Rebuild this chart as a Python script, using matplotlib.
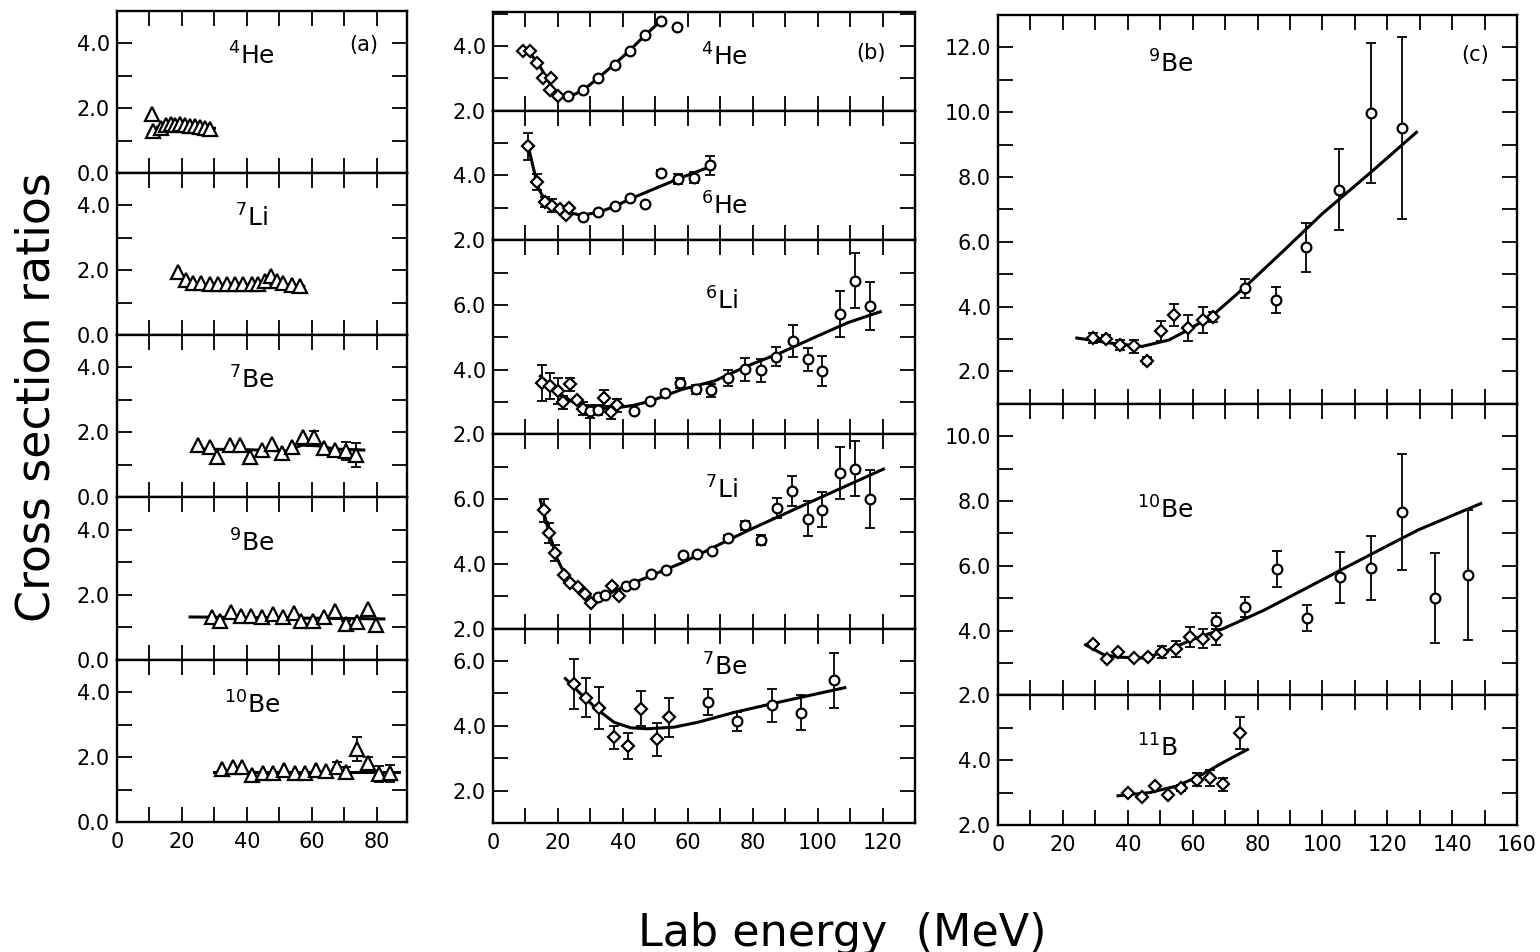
import matplotlib
matplotlib.use("Agg")
import matplotlib.pyplot as plt
from matplotlib.ticker import MultipleLocator
import numpy as np

plt.rcParams['font.family'] = ['DejaVu Sans']
plt.rcParams['mathtext.default'] = 'regular'

W, H = 1540, 952

# ---------------- column (a): triangles ----------------
a_he4_x = [10.7, 11.2, 13.5, 15.0, 16.5, 18.0, 19.5, 21.0, 22.5, 24.0, 25.5, 27.0, 28.5]
a_he4_y = [1.82, 1.30, 1.40, 1.47, 1.50, 1.48, 1.50, 1.48, 1.46, 1.45, 1.43, 1.40, 1.36]
a_he4_err = [0] * 13
a_he4_fit_x = [12.5, 30.0]
a_he4_fit_y = [1.42, 1.38]

a_li7_x = [18.9, 21.1, 23.5, 26.0, 28.6, 31.2, 33.8, 36.3, 38.9, 41.5, 43.5, 45.6, 47.3, 49.2, 51.2, 53.8, 56.3]
a_li7_y = [1.93, 1.71, 1.60, 1.59, 1.58, 1.58, 1.57, 1.58, 1.58, 1.57, 1.57, 1.66, 1.81, 1.66, 1.60, 1.55, 1.52]
a_li7_err = [0] * 17
a_li7_fit_x = [21.0, 57.5]
a_li7_fit_y = [1.55, 1.50]

a_be7_x = [24.8, 28.6, 30.9, 34.8, 37.8, 40.9, 44.5, 47.6, 50.7, 54.0, 57.3, 60.6, 63.7, 67.1, 70.5, 73.5]
a_be7_y = [1.61, 1.55, 1.24, 1.61, 1.61, 1.25, 1.45, 1.64, 1.36, 1.53, 1.84, 1.84, 1.51, 1.46, 1.41, 1.30]
a_be7_err = [0, 0, 0, 0, 0, 0, 0, 0, 0, 0, 0, 0.2, 0, 0, 0.28, 0.36]
a_be7_fit_x = [23.5, 40.0, 52.0, 57.0, 62.0, 67.0, 76.0]
a_be7_fit_y = [1.48, 1.46, 1.42, 1.60, 1.58, 1.48, 1.45]

a_be9_x = [29.4, 31.7, 35.0, 38.1, 41.4, 44.7, 47.9, 51.2, 54.5, 56.8, 60.4, 63.7, 67.1, 70.5, 73.8, 77.3, 79.7]
a_be9_y = [1.33, 1.21, 1.48, 1.36, 1.36, 1.31, 1.41, 1.33, 1.45, 1.21, 1.21, 1.33, 1.50, 1.10, 1.16, 1.55, 1.07]
a_be9_err = [0, 0, 0, 0, 0, 0, 0, 0, 0, 0, 0, 0, 0, 0.1, 0.12, 0, 0]
a_be9_fit_x = [22.5, 82.2]
a_be9_fit_y = [1.32, 1.26]

a_be10_x = [32.2, 35.6, 38.4, 41.7, 45.0, 48.1, 51.4, 54.8, 57.8, 61.4, 64.5, 67.6, 70.5, 73.9, 77.3, 80.7, 84.0]
a_be10_y = [1.64, 1.69, 1.69, 1.46, 1.52, 1.52, 1.62, 1.52, 1.52, 1.59, 1.57, 1.69, 1.54, 2.26, 1.82, 1.49, 1.50]
a_be10_err = [0, 0, 0, 0, 0, 0, 0, 0, 0, 0, 0, 0.15, 0.15, 0.37, 0.2, 0.25, 0.25]
a_be10_fit_x = [30.0, 86.9]
a_be10_fit_y = [1.55, 1.55]

# ---------------- column (b): diamonds (d) and circles (o) ----------------
b_he4_dx = [9.2, 11.5, 13.7, 15.4, 17.9, 17.6, 20.0]
b_he4_dy = [3.83, 3.83, 3.47, 3.01, 3.01, 2.63, 2.44]
b_he4_derr = [0] * 7
b_he4_ox = [23.1, 27.8, 32.4, 37.5, 42.2, 46.7, 51.7, 56.7]
b_he4_oy = [2.44, 2.65, 3.01, 3.42, 3.85, 4.35, 4.78, 4.60]
b_he4_oerr = [0] * 8
b_he4_fit_x = [9.5, 12.0, 14.0, 16.0, 18.0, 20.0, 22.0, 24.0, 28.0, 32.0, 37.0, 42.0, 47.0, 52.0]
b_he4_fit_y = [3.85, 3.70, 3.45, 3.10, 2.75, 2.50, 2.42, 2.45, 2.65, 2.98, 3.40, 3.85, 4.35, 4.80]

b_he6_dx = [10.9, 13.7, 16.1, 18.2, 20.5, 22.6, 23.3]
b_he6_dy = [4.90, 3.79, 3.18, 3.06, 2.95, 2.77, 3.00]
b_he6_derr = [0.41, 0.25, 0.15, 0.2, 0, 0, 0]
b_he6_ox = [27.8, 32.3, 37.6, 42.1, 46.7, 51.9, 56.9, 62.0, 66.7]
b_he6_oy = [2.73, 2.88, 3.06, 3.31, 3.13, 4.08, 3.88, 3.93, 4.31]
b_he6_oerr = [0, 0, 0, 0, 0, 0.1, 0.15, 0.17, 0.3]
b_he6_fit_x = [10.6, 13.9, 16.5, 21.8, 27.0, 32.1, 37.4, 42.6, 57.9, 66.1]
b_he6_fit_y = [5.0, 3.62, 3.14, 2.90, 2.77, 2.85, 3.04, 3.29, 3.93, 4.24]

b_li6_dx = [15.1, 17.6, 19.9, 21.6, 23.6, 25.9, 27.8, 34.2, 36.5, 38.3]
b_li6_dy = [3.58, 3.50, 3.34, 3.00, 3.55, 3.05, 2.80, 3.13, 2.69, 2.90]
b_li6_derr = [0.55, 0.4, 0.4, 0.2, 0.2, 0, 0.2, 0.25, 0.2, 0.2]
b_li6_ox = [30.0, 32.4, 43.4, 48.3, 53.0, 57.6, 62.5, 67.2, 72.5, 77.5, 82.5, 87.1, 92.3, 96.9, 101.5, 106.9, 111.5, 116.2]
b_li6_oy = [2.72, 2.75, 2.72, 3.03, 3.27, 3.58, 3.39, 3.37, 3.73, 4.01, 3.98, 4.40, 4.89, 4.32, 3.96, 5.72, 6.75, 5.97]
b_li6_oerr = [0.2, 0.15, 0, 0, 0.1, 0.15, 0.15, 0.2, 0.25, 0.35, 0.35, 0.3, 0.5, 0.35, 0.45, 0.7, 0.85, 0.75]
b_li6_fit_x = [14.6, 20.8, 27.0, 33.0, 38.0, 43.4, 48.6, 57.9, 68.2, 78.5, 88.8, 99.1, 109.5, 119.3]
b_li6_fit_y = [3.80, 3.24, 2.85, 2.80, 2.82, 2.90, 3.03, 3.38, 3.65, 4.12, 4.53, 5.00, 5.46, 5.79]

b_li7_dx = [15.6, 17.4, 19.2, 21.8, 23.8, 26.1, 28.3, 30.2, 36.7, 38.8]
b_li7_dy = [5.66, 4.95, 4.35, 3.66, 3.42, 3.28, 3.07, 2.79, 3.31, 3.00]
b_li7_derr = [0.35, 0.3, 0.25, 0, 0, 0, 0, 0, 0, 0]
b_li7_ox = [32.3, 34.5, 41.1, 43.4, 48.6, 53.3, 58.4, 62.8, 67.4, 72.5, 77.7, 82.7, 87.6, 92.2, 96.9, 101.5, 106.9, 111.5, 116.2]
b_li7_oy = [2.97, 3.05, 3.31, 3.38, 3.70, 3.80, 4.28, 4.30, 4.39, 4.80, 5.19, 4.74, 5.73, 6.25, 5.40, 5.68, 6.80, 6.94, 6.00]
b_li7_oerr = [0, 0, 0, 0, 0, 0, 0, 0, 0, 0.1, 0.15, 0.15, 0.3, 0.45, 0.55, 0.55, 0.8, 0.85, 0.9]
b_li7_fit_x = [14.6, 17.7, 19.8, 22.9, 27.0, 30.1, 37.3, 43.4, 57.9, 78.5, 99.1, 120.3]
b_li7_fit_y = [5.97, 4.82, 4.15, 3.52, 3.16, 2.82, 3.16, 3.42, 4.02, 5.03, 5.97, 6.93]

b_be7_dx = [25.1, 28.5, 32.8, 37.3, 41.7, 45.7, 50.5, 54.3]
b_be7_dy = [5.30, 4.87, 4.56, 3.65, 3.39, 4.53, 3.58, 4.27]
b_be7_derr = [0.77, 0.6, 0.65, 0.35, 0.4, 0.55, 0.5, 0.6]
b_be7_ox = [66.2, 75.2, 85.8, 95.0, 104.9]
b_be7_oy = [4.73, 4.14, 4.63, 4.41, 5.41]
b_be7_oerr = [0.4, 0.3, 0.5, 0.55, 0.85]
b_be7_fit_x = [22.3, 27.0, 32.2, 37.3, 42.4, 47.6, 55.8, 63.1, 74.5, 85.8, 96.2, 108.4]
b_be7_fit_y = [5.46, 4.99, 4.50, 4.11, 3.94, 3.91, 3.96, 4.11, 4.42, 4.68, 4.91, 5.18]

# ---------------- column (c) ----------------
c_be9_dx = [29.3, 33.4, 37.5, 42.0, 45.9, 50.1, 54.4, 58.6, 63.1, 66.3]
c_be9_dy = [3.03, 3.01, 2.82, 2.77, 2.33, 3.25, 3.74, 3.33, 3.59, 3.69]
c_be9_derr = [0.15, 0.1, 0.15, 0.2, 0.1, 0.3, 0.35, 0.4, 0.4, 0.15]
c_be9_ox = [76.1, 85.8, 95.0, 105.0, 115.0, 124.5]
c_be9_oy = [4.56, 4.21, 5.83, 7.61, 9.97, 9.51]
c_be9_oerr = [0.3, 0.4, 0.75, 1.25, 2.17, 2.8]
c_be9_fit_x = [24.3, 34.9, 44.4, 52.7, 58.6, 66.3, 76.3, 88.2, 100.0, 115.0, 129.0]
c_be9_fit_y = [3.03, 2.87, 2.77, 2.97, 3.28, 3.74, 4.62, 5.74, 6.87, 8.15, 9.38]

c_be10_dx = [29.3, 33.7, 37.0, 41.8, 46.2, 50.7, 54.8, 59.2, 63.1, 67.1]
c_be10_dy = [3.58, 3.12, 3.34, 3.15, 3.18, 3.34, 3.43, 3.80, 3.75, 3.87]
c_be10_derr = [0, 0, 0, 0, 0, 0.2, 0.25, 0.3, 0.3, 0.3]
c_be10_ox = [67.1, 76.3, 86.0, 95.3, 105.3, 115.1, 124.6, 134.6, 145.0]
c_be10_oy = [4.30, 4.73, 5.91, 4.39, 5.64, 5.93, 7.66, 5.00, 5.72]
c_be10_oerr = [0.25, 0.3, 0.55, 0.4, 0.8, 1.0, 1.8, 1.38, 2.0]
c_be10_fit_x = [27.0, 32.5, 37.3, 45.6, 52.7, 59.8, 69.2, 82.2, 94.1, 105.9, 117.8, 129.6, 148.8]
c_be10_fit_y = [3.56, 3.26, 3.18, 3.15, 3.41, 3.72, 4.05, 4.64, 5.26, 5.88, 6.50, 7.11, 7.92]

c_b11_dx = [40.0, 44.4, 48.5, 52.4, 56.4, 61.2, 65.4, 69.5, 74.6]
c_b11_dy = [3.00, 2.85, 3.20, 2.93, 3.15, 3.39, 3.44, 3.26, 4.84]
c_b11_derr = [0, 0, 0, 0, 0.1, 0.2, 0.25, 0.2, 0.48]
c_b11_fit_x = [37.0, 46.7, 55.0, 62.1, 69.2, 76.9]
c_b11_fit_y = [2.90, 3.00, 3.20, 3.51, 3.92, 4.33]


fig = plt.figure(figsize=(W / 100, H / 100), dpi=100)


def panel(left, right, top, bottom, xlim, ylim, yticks, show_x=False):
    ax = fig.add_axes([left / W, 1 - bottom / H, (right - left) / W, (bottom - top) / H])
    ax.set_xlim(*xlim)
    ax.set_ylim(*ylim)
    ax.xaxis.set_major_locator(MultipleLocator(20))
    ax.xaxis.set_minor_locator(MultipleLocator(10))
    ax.set_yticks(yticks)
    ax.set_yticklabels(['%.1f' % v for v in yticks])
    ax.yaxis.set_minor_locator(MultipleLocator(1))
    ax.tick_params(which='both', direction='in', top=True, right=True,
                   length=11, width=1.3)
    ax.tick_params(axis='y', labelsize=15, pad=5)
    ax.tick_params(axis='x', labelsize=15, pad=7, labelbottom=show_x)
    for s in ax.spines.values():
        s.set_linewidth(1.7)
    return ax


def points(ax, x, y, err, marker, ms):
    x, y, err = np.asarray(x), np.asarray(y), np.asarray(err)
    m = err > 0
    if m.any():
        ax.errorbar(x[m], y[m], yerr=err[m], fmt='none', ecolor='k',
                    elinewidth=1.3, capsize=3.5, capthick=1.3, zorder=3)
    ax.plot(x, y, linestyle='none', marker=marker, ms=ms, mfc='white',
            mec='k', mew=1.6, zorder=4)


def fit(ax, x, y):
    ax.plot(x, y, color='k', lw=2.2, zorder=2)


def label(ax, x, y, s):
    ax.text(x, y, s, fontsize=18, ha='center', va='center')


TRI, DIA, CIR = ('^', 10), ('D', 6.5), ('o', 7)

# column (a)
a_lims = (0, 89.3)
a_tops = [11, 173, 335, 497, 660]
a_bots = [173, 335, 497, 660, 822]
a_sets = [
    (a_he4_x, a_he4_y, a_he4_err, a_he4_fit_x, a_he4_fit_y, r'$^{4}$He'),
    (a_li7_x, a_li7_y, a_li7_err, a_li7_fit_x, a_li7_fit_y, r'$^{7}$Li'),
    (a_be7_x, a_be7_y, a_be7_err, a_be7_fit_x, a_be7_fit_y, r'$^{7}$Be'),
    (a_be9_x, a_be9_y, a_be9_err, a_be9_fit_x, a_be9_fit_y, r'$^{9}$Be'),
    (a_be10_x, a_be10_y, a_be10_err, a_be10_fit_x, a_be10_fit_y, r'$^{10}$Be'),
]
for i, (x, y, e, fx, fy, name) in enumerate(a_sets):
    ax = panel(117, 407, a_tops[i], a_bots[i], a_lims, (0, 5), [0, 2, 4], show_x=(i == 4))
    fit(ax, fx, fy)
    points(ax, x, y, e, *TRI)
    label(ax, 41.5, 3.6, name)
    if i == 0:
        ax.text(76, 3.95, '(a)', fontsize=15, ha='center', va='center')

# column (b)
b_lims = (0, 130)
b_edges = [12, 110.7, 240.2, 434.4, 628.7, 823]
b_ylims = [(2, 5.05), (2, 6), (2, 8), (2, 8), (1, 7)]
b_yticks = [[2, 4], [2, 4], [2, 4, 6], [2, 4, 6], [2, 4, 6]]
b_sets = [
    (b_he4_dx, b_he4_dy, b_he4_derr, b_he4_ox, b_he4_oy, b_he4_oerr, b_he4_fit_x, b_he4_fit_y, r'$^{4}$He', (71.2, 3.67)),
    (b_he6_dx, b_he6_dy, b_he6_derr, b_he6_ox, b_he6_oy, b_he6_oerr, b_he6_fit_x, b_he6_fit_y, r'$^{6}$He', (71.2, 3.05)),
    (b_li6_dx, b_li6_dy, b_li6_derr, b_li6_ox, b_li6_oy, b_li6_oerr, b_li6_fit_x, b_li6_fit_y, r'$^{6}$Li', (70.3, 6.13)),
    (b_li7_dx, b_li7_dy, b_li7_derr, b_li7_ox, b_li7_oy, b_li7_oerr, b_li7_fit_x, b_li7_fit_y, r'$^{7}$Li', (70.3, 6.28)),
    (b_be7_dx, b_be7_dy, b_be7_derr, b_be7_ox, b_be7_oy, b_be7_oerr, b_be7_fit_x, b_be7_fit_y, r'$^{7}$Be', (71.5, 5.82)),
]
for i, (dx, dy, de, ox, oy, oe, fx, fy, name, pos) in enumerate(b_sets):
    ax = panel(493, 915, b_edges[i], b_edges[i + 1], b_lims, b_ylims[i], b_yticks[i], show_x=(i == 4))
    fit(ax, fx, fy)
    points(ax, dx, dy, de, *DIA)
    points(ax, ox, oy, oe, *CIR)
    label(ax, pos[0], pos[1], name)
    if i == 0:
        ax.text(116.4, 3.79, '(b)', fontsize=15, ha='center', va='center')

# column (c)
c_lims = (0, 160)
c_edges = [15, 403.8, 695.4, 825]
ax = panel(998, 1517, c_edges[0], c_edges[1], c_lims, (1, 13), [2, 4, 6, 8, 10, 12])
fit(ax, c_be9_fit_x, c_be9_fit_y)
points(ax, c_be9_dx, c_be9_dy, c_be9_derr, *DIA)
points(ax, c_be9_ox, c_be9_oy, c_be9_oerr, *CIR)
label(ax, 53.3, 11.49, r'$^{9}$Be')
ax.text(147, 11.77, '(c)', fontsize=15, ha='center', va='center')

ax = panel(998, 1517, c_edges[1], c_edges[2], c_lims, (2, 11), [2, 4, 6, 8, 10])
fit(ax, c_be10_fit_x, c_be10_fit_y)
points(ax, c_be10_dx, c_be10_dy, c_be10_derr, *DIA)
points(ax, c_be10_ox, c_be10_oy, c_be10_oerr, *CIR)
label(ax, 51.5, 7.73, r'$^{10}$Be')

ax = panel(998, 1517, c_edges[2], c_edges[3], c_lims, (2, 6), [2, 4], show_x=True)
fit(ax, c_b11_fit_x, c_b11_fit_y)
points(ax, c_b11_dx, c_b11_dy, c_b11_derr, *DIA)
label(ax, 49.1, 4.38, r'$^{11}$B')

fig.text(37 / W, 1 - 397 / H, 'Cross section ratios', rotation=90,
         fontsize=33, ha='center', va='center')
fig.text(842 / W, 1 - 946 / H, 'Lab energy  (MeV)', fontsize=32,
         ha='center', va='baseline')

fig.savefig('out.png', dpi=100, facecolor='white')
